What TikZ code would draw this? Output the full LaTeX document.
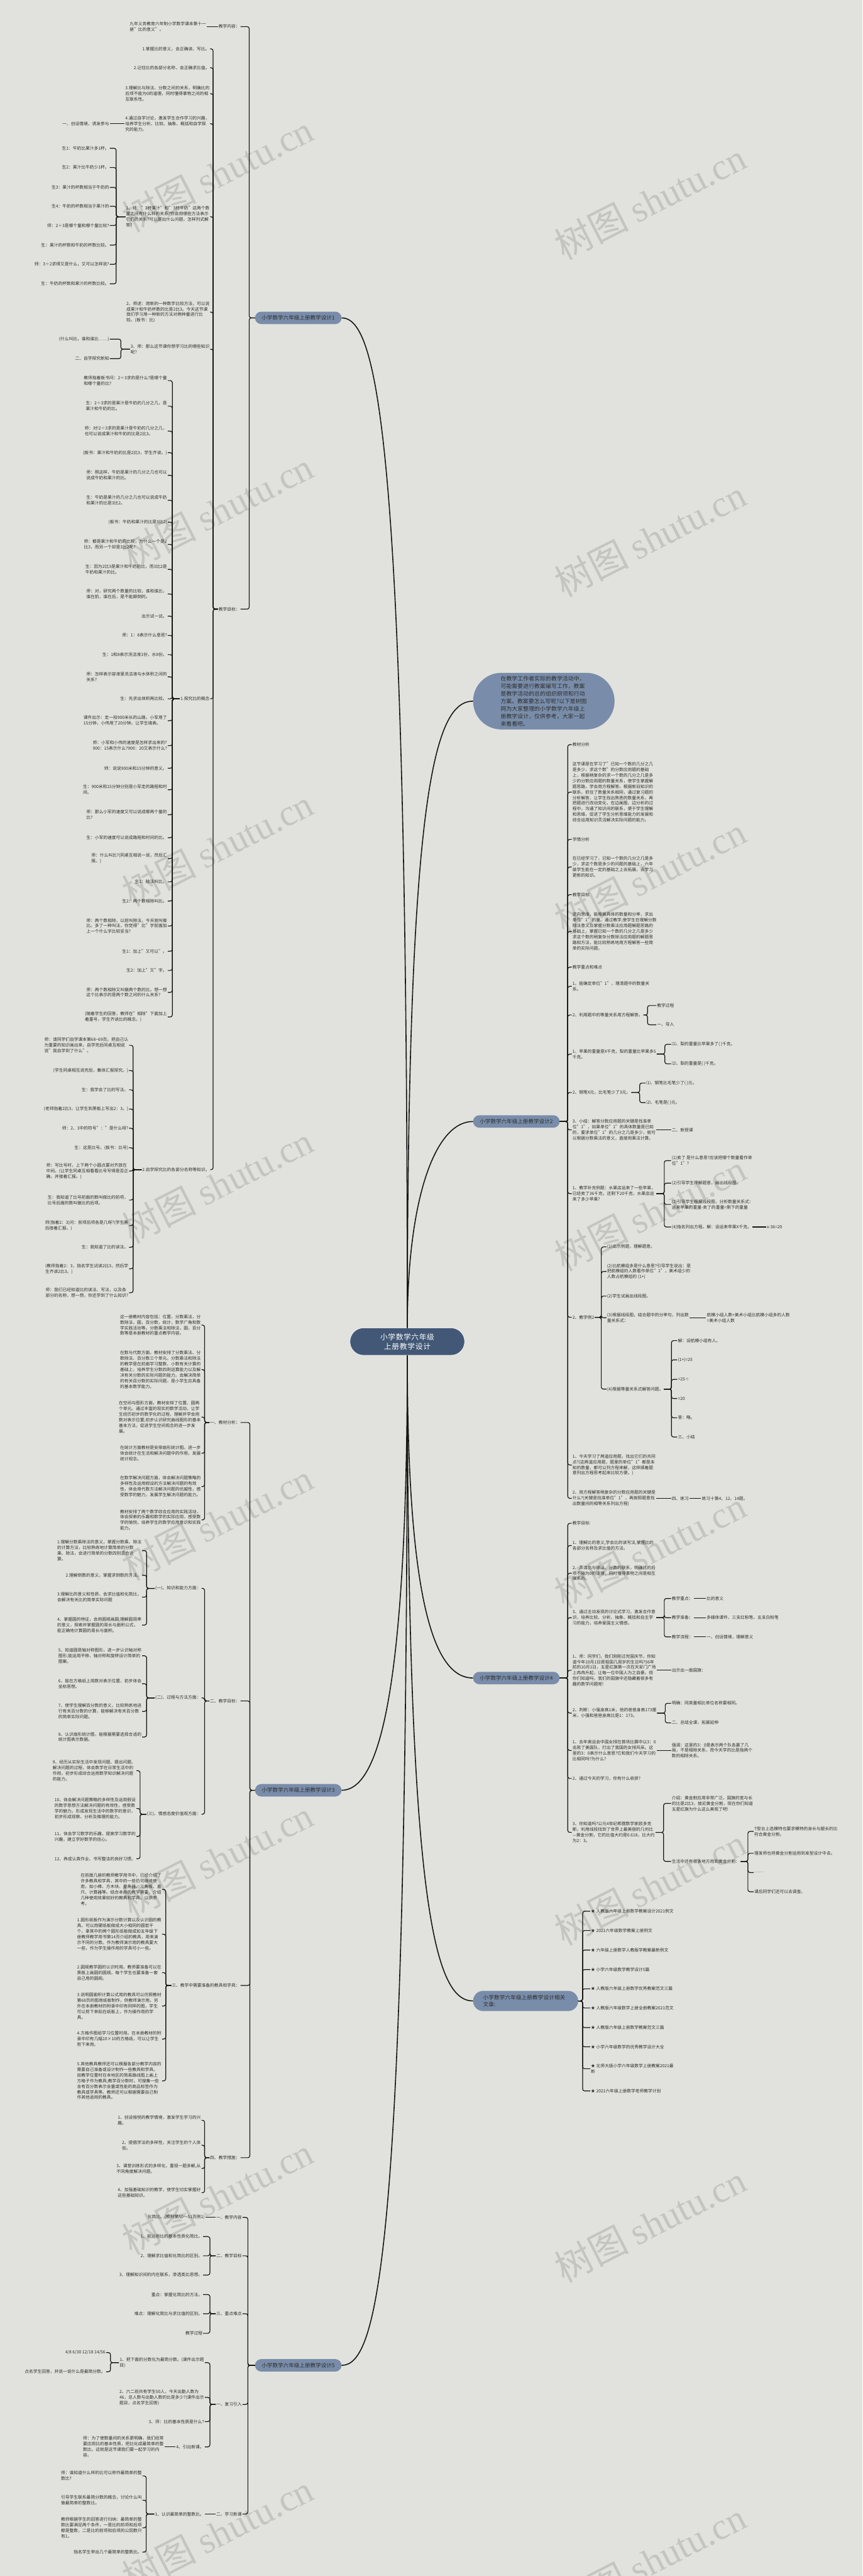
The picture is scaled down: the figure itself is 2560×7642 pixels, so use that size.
\documentclass[tikz,border=0pt]{standalone}
\usepackage{fontspec}
\setmainfont{Noto Sans CJK SC}
\newfontfamily\wmlatin{Liberation Serif}
\usepackage{varwidth}
\XeTeXlinebreaklocale "zh"
\XeTeXlinebreakskip = 0pt plus 1pt

\definecolor{bgc}{RGB}{225,226,221}
\definecolor{topicc}{RGB}{121,141,170}
\definecolor{rootc}{RGB}{66,88,118}
\definecolor{txtc}{RGB}{45,45,45}
\definecolor{linec}{RGB}{22,22,22}
\definecolor{wmc}{RGB}{196,197,192}

\tikzstyle{leaf}=[inner sep=2pt, text=txtc, font=\fontsize{12.6}{16.6}\selectfont, execute at begin node={\begin{varwidth}{252pt}\raggedright}, execute at end node={\end{varwidth}}]
\tikzstyle{leafL}=[leaf, anchor=east]
\tikzstyle{leafR}=[leaf, anchor=west]
\tikzstyle{topic}=[fill=topicc, text=txtc, rounded corners=18.5pt, minimum height=37pt, inner xsep=20pt, font=\fontsize{16}{20}\selectfont]
\tikzstyle{root}=[fill=rootc, draw=white, line width=1pt, text=white, rounded corners=40pt, minimum height=81pt, text width=250pt, align=center, inner xsep=45pt, font=\fontsize{22}{28}\selectfont]
\tikzstyle{leafedge}=[draw=linec, line width=2.2pt, rounded corners=6pt]
\tikzstyle{trunk}=[draw=linec, line width=3pt]
\tikzstyle{wmark}=[text=wmc, rotate=27, font=\fontsize{110}{110}\selectfont]

\begin{document}
\begin{tikzpicture}[x=1pt, y=-1pt]
    \fill[bgc] (0,0) rectangle (2560,7642);
    \useasboundingbox (0,0) rectangle (2560,7642);

    % watermark
    \foreach \k in {0,...,7} {
        \node[wmark] at (646,514+1000*\k) {树图 {\wmlatin shutu.cn}};
        \node[wmark] at (1930,597+1000*\k) {树图 {\wmlatin shutu.cn}};
    }

    % centre and main topics
    \node[root] (C) at (1209,3980) {小学数学六年级上册教学设计};
    \node[topic, anchor=east] (B1) at (1014,943) {小学数学六年级上册教学设计1};
    \node[topic, anchor=east] (B3) at (1014,5311) {小学数学六年级上册教学设计3};
    \node[topic, anchor=east] (B5) at (1014,7017) {小学数学六年级上册教学设计5};
    \node[topic, anchor=west, text width=256pt, align=left, inner xsep=82pt, rounded corners=84pt, minimum height=168pt, font=\fontsize{16.5}{22.4}\selectfont] (note) at (1404,2080) {在教学工作者实际的教学活动中，可能需要进行教案编写工作，教案是教学活动的总的组织纲领和行动方案。教案要怎么写呢?以下是树图网为大家整理的小学数学六年级上册教学设计，仅供参考，大家一起来看看吧。};
    \node[topic, anchor=west] (B2) at (1404,3327) {小学数学六年级上册教学设计2};
    \node[topic, anchor=west] (B4) at (1404,4978) {小学数学六年级上册教学设计4};
    \node[topic, anchor=west, text width=252pt, align=left, inner xsep=30pt, rounded corners=30pt, minimum height=60pt] (B6) at (1404,5936) {小学数学六年级上册教学设计相关文章:};

    \draw[trunk] (C.north) .. controls (1209,1300) and (1120,943) .. (B1.east);
    \draw[trunk] (C.north) .. controls (1209,2350) and (1290,2080) .. (note.west);
    \draw[trunk] (C.north) .. controls (1209,3560) and (1290,3327) .. (B2.west);
    \draw[trunk] (C.south) .. controls (1209,4760) and (1290,4978) .. (B4.west);
    \draw[trunk] (C.south) .. controls (1209,5050) and (1120,5311) .. (B3.east);
    \draw[trunk] (C.south) .. controls (1209,5650) and (1290,5936) .. (B6.west);
    \draw[trunk] (C.south) .. controls (1209,6700) and (1120,7017) .. (B5.east);

    % ---------- design 1 ----------
    \node[leafL] (nr) at (714,79) {教学内容：};
    \node[leafL] (nrA) at (614,79) {九年义务教育六年制小学数学课本第十一册"比的意义"。};
    \node[leafL] (mb) at (714,1807) {教学目标：};
    \foreach \y/\txt [count=\i] in {145/{1.掌握比的意义，会正确读、写比。},
        201/{2.记住比的各部分名称，会正确求比值。},
        278/{3.理解比与除法、分数之间的关系，明确比的后项不能为0的道理，同时懂得事物之间的相互联系性。},
        367/{4.通过自学讨论，激发学生合作学习的兴趣，培养学生分析、比较、抽象、概括和自学探究的能力。},
        643/{1、师："2杯果汁"和"3杯牛奶"这两个数量之间有什么样的关系?你会用哪些方法表示它们的关系?可以提出什么问题，怎样列式解答?},
        926/{2、师述：用新的一种数学比较方法，可以说成果汁和牛奶杯数的比是2比3。今天这节课我们学习用一种新的方法对两种量进行比较。(板书：比)},
        1036/{3、师：那么这节课你想学习比的哪些知识呢?},
        2073/{1.探究比的概念},
        3470/{2.自学探究比的各部分名称等知识。}}
        \node[leafL] (mb\i) at (624,\y) {\txt};
    \node[leafL] (cj) at (326,367) {一、创设情境，诱发参与};
    \foreach \y/\txt [count=\i] in {440/{生1：牛奶比果汁多1杯。}, 497/{生2：果汁比牛奶少1杯。},
        556/{生3：果汁的杯数相当于牛奶的}, 612/{生4：牛奶的杯数相当于果汁的},
        669/{师：2÷3是哪个量和哪个量比较?}, 727/{生：果汁的杯数和牛奶的杯数比较。},
        784/{师：3÷2求得又是什么，又可以怎样说?}, 842/{生：牛奶的杯数和果汁的杯数比较。}}
        \node[leafL] (sh\i) at (326,\y) {\txt};
    \foreach \y/\txt [count=\i] in {1006/{(什么叫比，谁和谁比……)}, 1064/{二、自学探究新知}}
        \node[leafL] (zs\i) at (326,\y) {\txt};
    \foreach \y/\txt [count=\i] in {1129/{教师指着板书问：2÷3求的是什么?是哪个量和哪个量的比?},
        1205/{生：2÷3求的是果汁是牛奶的几分之几，是果汁和牛奶的比。},
        1279/{师：对!2÷3求的是果汁是牛奶的几分之几，也可以说成果汁和牛奶的比是2比3。},
        1343/{(板书：果汁和牛奶的比是2比3，学生齐读。)},
        1410/{师：照这样，牛奶是果汁的几分之几也可以说成牛奶和果汁的比。},
        1484/{生：牛奶是果汁的几分之几也可以说成牛奶和果汁的比是3比2。},
        1549/{(板书：牛奶和果汁的比是3比2)},
        1615/{师：都是果汁和牛奶的比较，为什么一个是2比3，而另一个却是3比2呢?},
        1689/{生：因为2比3是果汁和牛奶的比，而3比2是牛奶和果汁的比。},
        1762/{师：对，研究两个数量的比较，谁和谁比，谁在前，谁在后，是不能颠倒的。},
        1828/{出示试一试。},
        1885/{师：1：8表示什么意思?},
        1942/{生：1和8表示洗洁液1份，水8份。},
        2008/{师：怎样表示容液里洗洁液与水体积之间的关系?},
        2073/{生：先求出体积再比较。},
        2138/{课件出示：走一段900米长的山路，小军用了15分钟，小伟用了20分钟。让学生填表。},
        2212/{师：小军和小伟的速度是怎样求出来的?900：15表示什么?900：20又表示什么?},
        2279/{师：说说900米和15分钟的意义。},
        2343/{生：900米和15分钟分别是小军走的路程和时间。},
        2417/{师：那么小军的速度又可以说成哪两个量的比?},
        2485/{生：小军的速度可以说成路程和时间的比。},
        2547/{师：什么叫比?(同桌互相说一说，然后汇报。)},
        2616/{生1：除法叫比。},
        2673/{生2：两个数相除叫比。},
        2747/{师：两个数相除，以前叫除法，今天就叫做比。多了一种叫法，你觉得"比"字前面加上一个什么字比较妥当?},
        2822/{生1：加上"又可以"。},
        2879/{生2：加上"又"字。},
        2944/{师：两个数相除又叫做两个数的比。想一想这个比表示的是两个数之间的什么关系?},
        3017/{(随着学生的回答，教师在"相除"下面加上着重号，学生齐读比的概念。)}}
        \node[leafL] (gn\i) at (498,\y) {\txt};
    \foreach \y/\txt [count=\i] in {3101/{师：请同学们自学课本第68\textasciitilde69页。把自己认为重要的知识画出来，自学完后同桌互相说说"我自学到了什么"。},
        3176/{(学生同桌相互说完后，集体汇报探究。)},
        3233/{生：我学会了比的写法。},
        3290/{(老师指着2比3，让学生到黑板上写出2：3。)},
        3347/{师：2、3中的符号"："是什么呀?},
        3405/{生：这是比号。(板书：比号)},
        3474/{师：写比号时，上下两个小圆点要对齐放在中间。(让学生同桌互相看看比号写得是否正确，并接着汇报。)},
        3560/{生：我知道了比号前面的数叫做比的前项，比号后面的数叫做比的后项。},
        3636/{师(指着2：3)问：前项后项各是几呀?(学生答后接着汇报。)},
        3700/{生：我知道了比的读法。},
        3764/{(教师指着2：3，指名学生试读2比3，然后学生齐读2比3。)},
        3835/{师：我们已经知道比的读法、写法，以及各部分的名称，想一想，你还学到了什么知识?}}
        \node[leafL] (mc\i) at (383,\y) {\txt};

    \draw[leafedge] (B1.west) -- ++(-17,0) |- (nr.east);
    \draw[leafedge] (B1.west) -- ++(-17,0) |- (mb.east);
    \draw[leafedge] (nr.west) -- (nrA.east);
    \foreach \i in {1,...,9}
        \draw[leafedge] (mb.west) -- ++(-14,0) |- (mb\i.east);
    \draw[leafedge] (mb4.west) -- (cj.east);
    \foreach \i in {1,...,8}
        \draw[leafedge] (mb5.west) -- ++(-27,0) |- (sh\i.east);
    \foreach \i in {1,2}
        \draw[leafedge] (mb7.west) -- ++(-27,0) |- (zs\i.east);
    \foreach \i in {1,...,29}
        \draw[leafedge] (mb8.west) -- ++(-22,0) |- (gn\i.east);
    \foreach \i in {1,...,12}
        \draw[leafedge] (mb9.west) -- ++(-25,0) |- (mc\i.east);

    % ---------- design 3 ----------
    \node[leafL] (jc) at (714,4220) {一、教材分析：};
    \node[leafL] (jm) at (714,5046) {二、教学目标：};
    \node[leafL] (jj) at (714,5890) {三、教学中需要准备的教具和学具：};
    \node[leafL] (jz) at (714,6401) {四、教学措施：};
    \foreach \y/\txt [count=\i] in {3931/{这一册教材内容包括：位置，分数乘法，分数除法，圆，百分数，统计，数学广角和数学实践活动等。分数乘法和除法，圆，百分数等是本册教材的重点教学内容。},
        4063/{在数与代数方面，教材安排了分数乘法、分数除法、百分数三个单元。分数乘法和除法的教学是在前面学习整数、小数有关计算的基础上，培养学生分数四则运算能力以及解决有关分数的实际问题的能力。会解决简单的有关百分数的实际问题，是小学生应具备的基本数学能力。},
        4204/{在空间与图形方面，教材安排了位置、圆两个单元。通过丰富的现实的数学活动，让学生经历初步的数学化的过程，理解并学会用数对表示位置;初步认识研究曲线图形的基本基本方法，促进学生空间观念的进一步发展。},
        4311/{在统计方面教材是安排扇形统计图。进一步体会统计在生活和解决问题中的作用，发展统计观念。},
        4410/{在数学解决问题方面，体会解决问题策略的多样性及运用假设的方法解决问题的有效性，体会用代数方法解决问题的优越性，感受数学的魅力，发展学生解决问题的能力。},
        4509/{教材安排了两个数学综合应用的实践活动，体会探索的乐趣和数学的实际应用，感受数学的愉悦，培养学生的数学应用意识和实践能力。}}
        \node[leafL] (jc\i) at (598,\y) {\txt};
    \foreach \y/\txt [count=\i] in {4712/{(一)、知识和能力方面：}, 5037/{(二)、过程与方法方面：}, 5382/{(三)、情感态度价值观方面：}}
        \node[leafL] (jm\i) at (598,\y) {\txt};
    \foreach \y/\txt [count=\i] in {4600/{1.理解分数乘除法的意义，掌握分数乘、除法的计算方法，比较熟练地计算简单的分数乘、除法，会进行简单的分数四则混合运算。},
        4673/{2.理解倒数的意义，掌握求倒数的方法。},
        4738/{3.理解比的意义和性质，会求比值和化简比，会解决有关比的简单实际问题},
        4821/{4、掌握圆的特征，会用圆规画圆;理解圆周率的意义，探索并掌握圆的周长与面积公式，能正确地计算圆的周长与面积。}}
        \node[leafL] (zn\i) at (422,\y) {\txt};
    \foreach \y/\txt [count=\i] in {4912/{5、知道圆是轴对称图形，进一步认识轴对称图形;能运用平移、轴对称和旋转设计简单的图案。},
        4995/{6、能在方格纸上用数对表示位置，初步体会坐标思想。},
        5077/{7、使学生理解百分数的意义，比较熟练地进行有关百分数的计算，能够解决有关百分数的简单实际问题。},
        5153/{8、认识扇形统计图，能根据需要选择合适的统计图表示数据。}}
        \node[leafL] (gc\i) at (422,\y) {\txt};
    \foreach \y/\txt [count=\i] in {5253/{9、经历从实际生活中发现问题、提出问题、解决问题的过程，体会数学在日常生活中的作用，初步形成综合运用数学知识解决问题的能力。},
        5365/{10、体会解决问题策略的多样性及运用假设的数学思想方法解决问题的有效性，感受数学的魅力。形成发现生活中的数学的意识，初步形成观察、分析及推理的能力。},
        5448/{11、体会学习数学的乐趣，提高学习数学的兴趣，建立学好数学的信心。},
        5514/{12、养成认真作业、书写整洁的良好习惯。}}
        \node[leafL] (qg\i) at (405,\y) {\txt};
    \foreach \y/\txt [count=\i] in {5605/{在前面几册的教师教学用书中，已经介绍了许多教具和学具，其中的一些仍可继续使用，如小棒、方木块、量角器、三角板、直尺、计算器等。结合本册的教学需要，介绍几种使用效果较好的教具和学具，以供参考。},
        5738/{1.圆形纸板作为演示分数计算以及认识圆的教具。可以用硬纸板做成大小相同的圆若干个。拿其中的两个圆形纸板做成如五年级下册教师教学用书第14页介绍的教具，用来演示不同的分数。作为教师演示用的教具要大一些，作为学生操作用的学具可小一些。},
        5852/{2.圆规教学圆的认识时用。教师要准备可以在黑板上画圆的圆规。每个学生也要准备一套自己用的圆规。},
        5951/{3.说明圆面积计算公式用的教具可以仿照教材第68页的图用纸板制作，供教师演示用。另外在本册教材的附录中印有同样的图，学生可以剪下来贴在纸板上，作为操作用的学具。},
        6049/{4.方格作图纸学习位置时用。在本册教材的附录中印有几幅10×10的方格纸，可以让学生剪下来用。},
        6173/{5.其他教具教师还可以根据各部分教学内容的需要自己准备或设计制作一些教具和学具。如教学位置时在本地区的简易路线图上画上方格子作为教具;教学百分数时，可搜集一些含有百分数表示含量或性能的商品标签作为教具或学具等。教师还可以根据需要自己制作其他适用的教具。}}
        \node[leafL] (jj\i) at (481,\y) {\txt};
    \foreach \y/\txt [count=\i] in {6290/{1、创设愉悦的教学情境，激发学生学习的兴趣。},
        6364/{2、提倡学法的多样性，关注学生的个人体验。},
        6433/{3、课堂训练形式的多样化，重视一题多解,从不同角度解决问题。},
        6505/{4、加强基础知识的教学，使学生切实掌握好这些基础知识。}}
        \node[leafL] (jz\i) at (598,\y) {\txt};

    \foreach \n in {jc,jm,jj,jz}
        \draw[leafedge] (B3.west) -- ++(-15,0) |- (\n.east);
    \foreach \i in {1,...,6}
        \draw[leafedge] (jc.west) -- ++(-14,0) |- (jc\i.east);
    \foreach \i in {1,2,3}
        \draw[leafedge] (jm.west) -- ++(-14,0) |- (jm\i.east);
    \foreach \i in {1,...,4} {
        \draw[leafedge] (jm1.west) -- ++(-24,0) |- (zn\i.east);
        \draw[leafedge] (jm2.west) -- ++(-24,0) |- (gc\i.east);
        \draw[leafedge] (jm3.west) -- ++(-18,0) |- (qg\i.east);
        \draw[leafedge] (jz.west) -- ++(-14,0) |- (jz\i.east);
    }
    \foreach \i in {1,...,6}
        \draw[leafedge] (jj.west) -- ++(-16,0) |- (jj\i.east);

    % ---------- design 5 ----------
    \foreach \y/\txt [count=\i] in {6578/{一、教学内容}, 6692/{二、教学目标}, 6864/{三、重点难点}, 7133/{一、复习引入}, 7458/{二、学习新课}}
        \node[leafL] (k\i) at (720,\y) {\txt};
    \node[leafL] (k1a) at (610,6578) {化简比。(教材第50～51页例1)};
    \foreach \y/\txt [count=\i] in {6635/{1、能运用比的基本性质化简比。}, 6692/{2、理解求比值和化简比的区别。}, 6749/{3、理解知识间的内在联系，渗透类比思想。}}
        \node[leafL] (mt\i) at (603,\y) {\txt};
    \foreach \y/\txt [count=\i] in {6807/{重点：掌握化简比的方法。}, 6864/{难点：理解化简比与求比值的区别。}, 6922/{教学过程}}
        \node[leafL] (nd\i) at (603,\y) {\txt};
    \foreach \y/\txt [count=\i] in {7009/{1、把下面的分数化为最简分数。(课件出示题目)},
        7112/{2、六二班共有学生50人，今天出勤人数为46，总人数与出勤人数的比是多少?(课件出示题目，点名学生回答)},
        7184/{3、师：比的基本性质是什么?},
        7259/{4、引出新课。}}
        \node[leafL] (fx\i) at (608,\y) {\txt};
    \foreach \y/\txt [count=\i] in {6979/{4/8 6/30 12/18 14/56}, 7036/{点名学生回答，并说一说什么是最简分数。}}
        \node[leafL] (fs\i) at (315,\y) {\txt};
    \node[leafL] (yc) at (488,7259) {师：为了使数量间的关系更明确，我们经常要应用比的基本性质，把比化成最简单的整数比。这就是这节课我们要一起学习的内容。};
    \node[leafL] (k5a) at (608,7458) {1、认识最简单的整数比。};
    \foreach \y/\txt [count=\i] in {7345/{师：谁知道什么样的比可以称作最简单的整数比?},
        7417/{引导学生联系最简分数的概念，讨论什么叫做最简单的整数比。},
        7499/{教师根据学生的回答进行归纳：最简单的整数比要满足两个条件，一是比的前项和后项都是整数，二是比的前项和后项的公因数只有1。},
        7571/{指名学生举出几个最简单的整数比。}}
        \node[leafL] (zj\i) at (423,\y) {\txt};

    \foreach \i in {1,...,5}
        \draw[leafedge] (B5.west) -- ++(-21,0) |- (k\i.east);
    \draw[leafedge] (k1.west) -- (k1a.east);
    \draw[leafedge] (k5.west) -- (k5a.east);
    \foreach \i in {1,2,3} {
        \draw[leafedge] (k2.west) -- ++(-17,0) |- (mt\i.east);
        \draw[leafedge] (k3.west) -- ++(-17,0) |- (nd\i.east);
    }
    \foreach \i in {1,...,4}
        \draw[leafedge] (k4.west) -- ++(-17,0) |- (fx\i.east);
    \foreach \i in {1,2}
        \draw[leafedge] (fx1.west) -- ++(-25,0) |- (fs\i.east);
    \draw[leafedge] (fx4.west) -- (yc.east);
    \foreach \i in {1,...,4}
        \draw[leafedge] (k5a.west) -- ++(-24,0) |- (zj\i.east);

    % ---------- design 2 ----------
    \foreach \y/\txt [count=\i] in {2209/{教材分析},
        2350/{这节课是在学习了"已知一个数的几分之几是多少，求这个数"的分数应用题的基础上，根据稍复杂的求一个数的几分之几是多少的分数应用题的数量关系，使学生掌握解题思路，学会用方程解答。根据新旧知识的联系，抓住了数量关系相同，通过复习题的分析解答，让学生找出熟悉的数量关系，再把题进行改动变化，在边画图、边分析的过程中，沟通了知识间的联系，便于学生理解和思维，促进了学生分析思维能力的发展和综合运用知识灵活解决实际问题的能力。},
        2490/{学情分析},
        2572/{在已经学习了，已知一个数的几分之几是多少，求这个数是多少的问题的基础上，六年级学生能在一定的基础之上去拓展，去学习更新的知识。},
        2654/{教学目标},
        2763/{逆向思维，能根据具体的数量和分率，求出单位"1"的量。通过教学,使学生在理解分数除法意义及掌握分数乘法应用题解题思路的基础上，掌握已知一个数的几分之几是多少求这个数的稍复杂分数除法应用题的解题思路和方法，能比较熟练地用方程解答一些简单的实际问题。},
        2869/{教学重点和难点},
        2926/{1、能确定单位"1"，理清题中的数量关系。},
        3011/{2、利用题中的等量关系用方程解答。},
        3127/{1、苹果的重量是X千克，梨的重量比苹果多5千克。},
        3241/{2、钢笔X元，比毛笔少了3元。},
        3352/{3、小结：解答分数应用题的关键是找准单位"1"，如果单位"1"的具体数量是已知的，要求单位"1"的几分之几是多少，就可以根据分数乘法的意义，直接用乘法计算。},
        3541/{1、教学补充例题：水果店运来了一些苹果，已经卖了36千克，还剩下20千克，水果店运来了多少苹果?},
        3908/{2、教学例2},
        4346/{1、今天学习了两道应用题，找出它们的共同点?(这两道应用题，题里的单位"1"都是未知的数量，都可以列方程来解，这样顺着题意列出方程思考起来比较方便。)},
        4445/{2、用方程解答稍复杂的分数应用题的关键是什么?(关键是找准单位"1"，再按照题意找出数量间的相等关系列出方程)}}
        \node[leafR] (r\i) at (1697,\y) {\txt};
    \foreach \y/\txt [count=\i] in {2983/{教学过程}, 3040/{一、导入}}
        \node[leafR] (dr\i) at (1948,\y) {\txt};
    \foreach \y/\txt [count=\i] in {3098/{⑴、梨的重量比苹果多了( )千克。}, 3156/{⑵、梨的重量是( )千克。}}
        \node[leafR] (pg\i) at (1992,\y) {\txt};
    \foreach \y/\txt [count=\i] in {3213/{⑴、钢笔比毛笔少了( )元。}, 3271/{⑵、毛笔是( )元。}}
        \node[leafR] (gb\i) at (1916,\y) {\txt};
    \node[leafR] (xs) at (1992,3352) {二、新授课};
    \foreach \y/\txt [count=\i] in {3443/{(1)卖了 是什么意思?应该把哪个数量看作单位"1"?},
        3510/{(2)引导学生理解题意，画出线段图。},
        3573/{(3)引导学生根据线段图，分析数量关系式：运来苹果的重量-卖了的重量=剩下的重量},
        3640/{(4)指名列出方程。解：设运来苹果X千克。}}
        \node[leafR] (bc\i) at (1992,\y) {\txt};
    \node[leafR] (bcx) at (2274,3640) {x-36=20};
    \foreach \y/\txt [count=\i] in {3699/{(1)出示例题，理解题意。},
        3772/{(2)比航模组多是什么意思?引导学生说出：是把航模组的人数看作单位"1"，美术组少的人数占航模组的 (1+)},
        3845/{(2)学生试画出线段图。},
        3909/{(3)根据线段图，结合题中的分率句，列出数量关系式：},
        4121/{(4)根据等量关系式解答问题。}}
        \node[leafR] (lt\i) at (1800,\y) {\txt};
    \node[leafR] (ltx) at (2096,3909) {航模小组人数+美术小组比航模小组多的人数=美术小组人数};
    \foreach \y/\txt [count=\i] in {3977/{解：设航模小组有人。}, 4034/{(1+)=25}, 4092/{=25÷}, 4149/{=20}, 4206/{答：略。}, 4263/{三、小结}}
        \node[leafR] (jd\i) at (2010,\y) {\txt};
    \node[leafR] (lx) at (1992,4445) {四、练习};
    \node[leafR] (lxa) at (2081,4445) {练习十第4、12、14题。};

    \foreach \i in {1,...,16}
        \draw[leafedge] (B2.east) -- ++(24,0) |- (r\i.west);
    \foreach \i in {1,2} {
        \draw[leafedge] (r9.east) -- ++(12,0) |- (dr\i.west);
        \draw[leafedge] (r10.east) -- ++(24,0) |- (pg\i.west);
        \draw[leafedge] (r11.east) -- ++(25,0) |- (gb\i.west);
    }
    \draw[leafedge] (r12.east) -- (xs.west);
    \foreach \i in {1,...,4}
        \draw[leafedge] (r13.east) -- ++(24,0) |- (bc\i.west);
    \draw[leafedge] (bc4.east) -- (bcx.west);
    \foreach \i in {1,...,5}
        \draw[leafedge] (r14.east) -- ++(19,0) |- (lt\i.west);
    \draw[leafedge] (lt4.east) -- (ltx.west);
    \foreach \i in {1,...,6}
        \draw[leafedge] (lt5.east) -- ++(22,0) |- (jd\i.west);
    \draw[leafedge] (r16.east) -- (lx.west);
    \draw[leafedge] (lx.east) -- (lxa.west);

    % ---------- design 4 ----------
    \foreach \y/\txt [count=\i] in {4519/{教学目标:},
        4585/{1、理解比的意义,学会比的读写法,掌握比的各部分名称及求比值的方法。},
        4667/{2、弄清比与除法、分数的联系，明确比的后项不能为0的道理，同时懂得事物之间是相互联系的。},
        4799/{3、通过主动发现的讨论式学习，激发合作意识，培养比较、分析、抽象、概括和自主学习的能力，培养爱国主义情感。},
        4955/{1、师：同学们，我们刚刚过完国庆节，你知道今年10月1日是祖国几周岁的生日吗?56年前的10月1日，五星红旗第一次在天安门广场上冉冉升起，让每一位中国人为之自豪。但你们知道吗，我们的国旗中还隐藏着很多有趣的数学问题呢!},
        5082/{2、判断：小强身高1米，他的爸爸身高173厘米，小强和爸爸身高比是1：173。},
        5193/{1、去年奥运会中国女排在首场比赛中以3：0击败了美国队，打出了我国的女排风采。这里的3：0表示什么意思?它和我们今天学习的比相同吗?为什么?},
        5276/{2、通过今天的学习，你有什么收获?},
        5436/{3、你知道吗?公元4世纪希腊数学家欧多克斯，利用线段找到了世界上最美丽的几何比—黄金分割，它的比值大约是0.618，比大约为2：3。}}
        \node[leafR] (p\i) at (1697,\y) {\txt};
    \foreach \y/\txt/\val [count=\i] in {4742/{教学重点：}/{比的意义}, 4799/{教学准备：}/{多媒体课件、三支红粉笔、五支白粉笔}, 4856/{教学流程：}/{一、创设情境，理解意义}} {
        \node[leafR] (zd\i) at (1992,\y) {\txt};
        \node[leafR] (zv\i) at (2095,\y) {\val};
    }
    \node[leafR] (gq) at (1992,4955) {出示出一面国旗：};
    \foreach \y/\txt [count=\i] in {5053/{明确：同类量相比单位名称要相同。}, 5111/{二、总结全课，拓展延伸}}
        \node[leafR] (pd\i) at (1992,\y) {\txt};
    \node[leafR] (qd) at (1992,5193) {强调：这里的3：0是表示两个队各赢了几局，不是相除关系，而今天学的比是指两个数的相除关系。};
    \foreach \y/\txt [count=\i] in {5350/{介绍：黄金割应用非常广泛，国旗的宽与长的比是2比3，接近黄金分割，现在你们知道五星红旗为什么这么美观了吧!}, 5522/{生活中还有很多地方用到黄金分割：}}
        \node[leafR] (hj\i) at (1992,\y) {\txt};
    \foreach \y/\txt [count=\i] in {5433/{T型台上选模特也要求模特的身长与腿长的比符合黄金分割。}, 5498/{理发师也将黄金分割运用到发型设计中去。}, 5555/{……}, 5612/{课后同学们还可以去调查。}}
        \node[leafR] (hg\i) at (2237,\y) {\txt};

    \foreach \i in {1,...,9}
        \draw[leafedge] (B4.east) -- ++(24,0) |- (p\i.west);
    \foreach \i in {1,2,3} {
        \draw[leafedge] (p4.east) -- ++(24,0) |- (zd\i.west);
        \draw[leafedge] (zd\i.east) -- (zv\i.west);
    }
    \draw[leafedge] (p5.east) -- (gq.west);
    \foreach \i in {1,2}
        \draw[leafedge] (p6.east) -- ++(24,0) |- (pd\i.west);
    \draw[leafedge] (p7.east) -- (qd.west);
    \foreach \i in {1,2}
        \draw[leafedge] (p9.east) -- ++(24,0) |- (hj\i.west);
    \foreach \i in {1,...,4}
        \draw[leafedge] (hj2.east) -- ++(22,0) |- (hg\i.west);

    % ---------- related articles ----------
    \foreach \y/\txt [count=\i] in {5670/{★ 人教版六年级上册数学教案设计2021例文},
        5727/{★ 2021六年级数学教案上册例文},
        5785/{★ 六年级上册数学人教版学教案最新例文},
        5843/{★ 小学六年级数学教学设计5篇},
        5900/{★ 人教版六年级上册数学优秀教案范文三篇},
        5957/{★ 人教版六年级数学上册全册教案2021范文},
        6015/{★ 人教版六年级上册数学教案范文三篇},
        6072/{★ 小学六年级数学的优秀教学设计大全},
        6137/{★ 北师大版小学六年级数学上册教案2021最新},
        6203/{★ 2021六年级上册数学老师教学计划}}
        \node[leafR] (wz\i) at (1752,\y) {\txt};
    \foreach \i in {1,...,10}
        \draw[leafedge] (B6.east) -- ++(13,0) |- (wz\i.west);
\end{tikzpicture}
\end{document}
